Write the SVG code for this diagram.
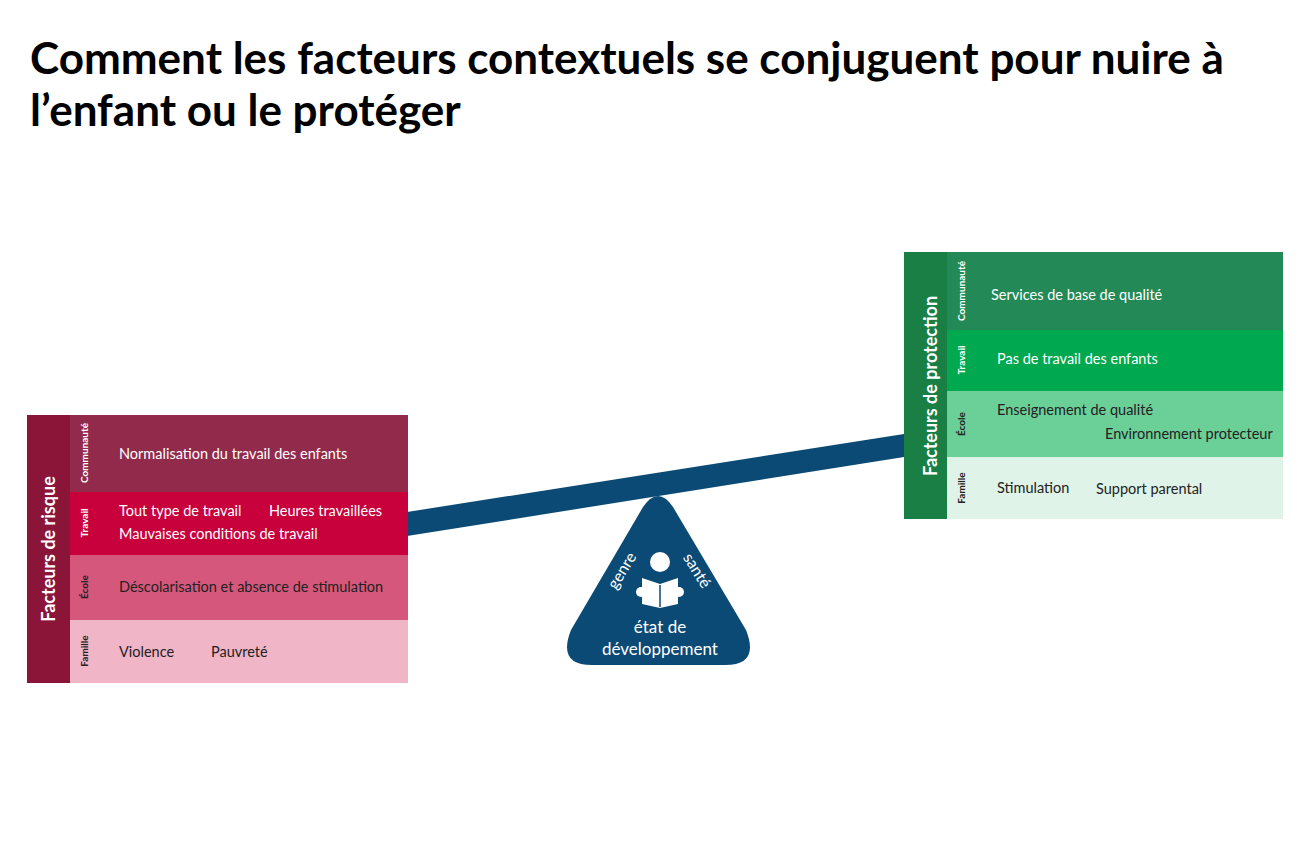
<svg xmlns="http://www.w3.org/2000/svg" width="1300" height="867" viewBox="0 0 1300 867">
<style>
text{font-family:Lato,"Open Sans","Liberation Sans",sans-serif}
.t{font-size:44px;font-weight:bold;fill:#000}
.h{font-size:18px;font-weight:bold;fill:#fff}
.s{font-size:10px;font-weight:bold}
.i{font-size:14.5px}
.w{fill:#fff}
.k{fill:#222}
</style>
<rect width="1300" height="867" fill="#fff"/>
<text class="t" x="30" y="74">Comment les facteurs contextuels se conjuguent pour nuire à</text>
<text class="t" x="30" y="126">l’enfant ou le protéger</text>
<g id="connectors">
<polygon points="407,512 904,434 904,457 407,536" fill="#0B4A75"/>
</g>
<g id="risque">
<rect x="27" y="415" width="43" height="268" fill="#8A1538"/>
<rect x="70" y="415" width="338" height="77" fill="#922B4B"/>
<rect x="70" y="492" width="338" height="63" fill="#C8003C"/>
<rect x="70" y="555" width="338" height="65" fill="#D6577C"/>
<rect x="70" y="620" width="338" height="63" fill="#F0B5C6"/>
<text class="h" transform="translate(55,549) rotate(-90)" text-anchor="middle">Facteurs de risque</text>
<text class="s w" transform="translate(88,453) rotate(-90)" text-anchor="middle">Communauté</text>
<text class="s w" transform="translate(88,523) rotate(-90)" text-anchor="middle">Travail</text>
<text class="s k" transform="translate(88,587) rotate(-90)" text-anchor="middle">École</text>
<text class="s k" transform="translate(88,651) rotate(-90)" text-anchor="middle">Famille</text>
<text class="i w" x="119" y="459">Normalisation du travail des enfants</text>
<text class="i w" x="119" y="516">Tout type de travail</text>
<text class="i w" x="269" y="516">Heures travaillées</text>
<text class="i w" x="119" y="539">Mauvaises conditions de travail</text>
<text class="i k" x="119" y="592">Déscolarisation et absence de stimulation</text>
<text class="i k" x="119" y="657">Violence</text>
<text class="i k" x="211" y="657">Pauvreté</text>
</g>
<g id="protection">
<rect x="904" y="252" width="43" height="267" fill="#1A7F45"/>
<rect x="947" y="252" width="336" height="78" fill="#238A57"/>
<rect x="947" y="330" width="336" height="61" fill="#00A94F"/>
<rect x="947" y="391" width="336" height="66" fill="#6BCF98"/>
<rect x="947" y="457" width="336" height="62" fill="#DFF3E8"/>
<text class="h" transform="translate(937,386) rotate(-90)" text-anchor="middle">Facteurs de protection</text>
<text class="s w" transform="translate(965,291) rotate(-90)" text-anchor="middle">Communauté</text>
<text class="s w" transform="translate(965,360) rotate(-90)" text-anchor="middle">Travail</text>
<text class="s k" transform="translate(965,424) rotate(-90)" text-anchor="middle">École</text>
<text class="s k" transform="translate(965,488) rotate(-90)" text-anchor="middle">Famille</text>
<text class="i w" x="991" y="300">Services de base de qualité</text>
<text class="i w" x="997" y="364">Pas de travail des enfants</text>
<text class="i k" x="997" y="415">Enseignement de qualité</text>
<text class="i k" x="1105" y="439">Environnement protecteur</text>
<text class="i k" x="997" y="493">Stimulation</text>
<text class="i k" x="1096" y="494">Support parental</text>
</g>
<g id="pivot">
<path d="M643,507 Q658,485 673,507 L746,630 Q760,665 725,665 L592,665 Q557,665 571,630 Z" fill="#0B4A75"/>
<circle cx="660" cy="562" r="10" fill="#fff"/>
<path d="M642,578 L660,584 L678,578 L678,604 L660,608 L642,604 Z" fill="#fff"/>
<circle cx="641" cy="592" r="5" fill="#fff"/>
<circle cx="679" cy="592" r="5" fill="#fff"/>
<line x1="660" y1="585" x2="660" y2="607" stroke="#0B4A75" stroke-width="1.5"/>
<text class="w" font-size="16" dominant-baseline="central" transform="translate(621,570) rotate(-58)" text-anchor="middle">genre</text>
<text class="w" font-size="16" dominant-baseline="central" transform="translate(698,570) rotate(58)" text-anchor="middle">santé</text>
<text class="w" font-size="17" x="660" y="633" text-anchor="middle">état de</text>
<text class="w" font-size="17" x="660" y="655" text-anchor="middle">développement</text>
</g>
</svg>
